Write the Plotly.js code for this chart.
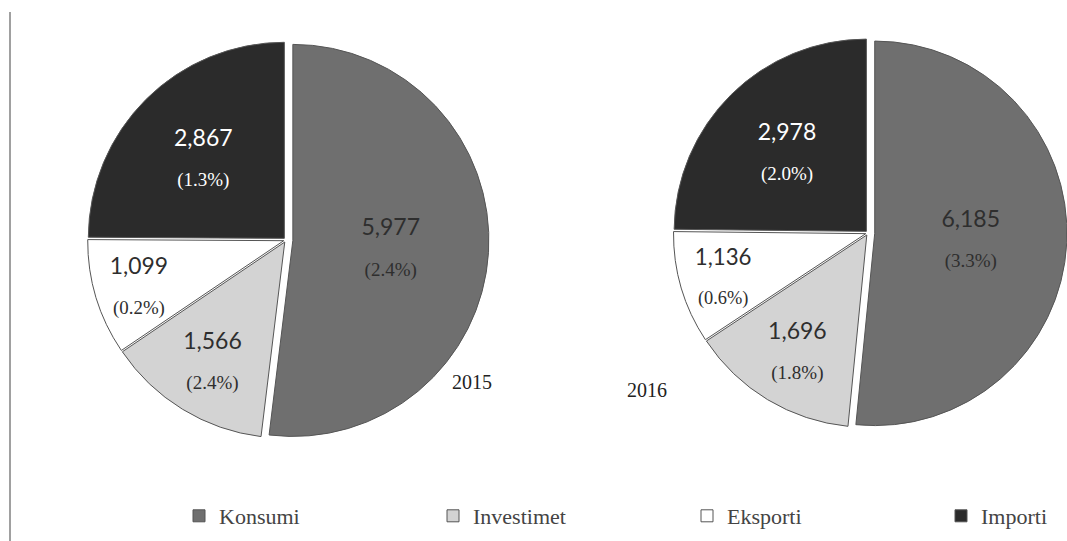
<!DOCTYPE html>
<html>
<head>
<meta charset="utf-8">
<script src="https://cdn.plot.ly/plotly-3.0.1.min.js"></script>
<style>
  html, body { margin: 0; padding: 0; background: #ffffff; }
</style>
</head>
<body>
<div id="chart"></div>
<script>
// ---- data ----
const categories = ["Konsumi", "Investimet", "Eksporti", "Importi"];
const values2015 = [5977, 1566, 1099, 2867];
const growth2015 = ["2.4%", "2.4%", "0.2%", "1.3%"];
const values2016 = [6185, 1696, 1136, 2978];
const growth2016 = ["3.3%", "1.8%", "0.6%", "2.0%"];
const years = ["2015", "2016"];

// ---- style ----
const sliceColors = ["#6f6f6f", "#d3d3d3", "#ffffff", "#2b2b2b"];
const textColors = ["#2e2e2e", "#2e2e2e", "#2e2e2e", "#ffffff"];
const pulls = [0.035, 0.012, 0.012, 0.012];
const W = 1067, H = 541;

const tmpl = "<span style='font-family:Lato;font-size:23px'>%{value:,}</span><br>" +
             "<span style='font-size:19px'>(%{customdata})</span>";

function pieTrace(vals, growth, dom, show) {
  return {
    type: "pie",
    labels: categories,
    values: vals,
    customdata: growth,
    sort: false,
    direction: "clockwise",
    rotation: 0,
    pull: pulls,
    marker: { colors: sliceColors, line: { color: "#555555", width: 1 } },
    texttemplate: tmpl,
    textinfo: "text",
    textposition: "inside",
    insidetextorientation: "horizontal",
    textfont: { family: "Liberation Serif, Times New Roman, serif", size: 31, color: textColors },
    hoverinfo: "label+value",
    showlegend: show,
    domain: dom
  };
}

const data = [
  pieTrace(values2015, growth2015, { x: [83.1 / W, 488.9 / W], y: [98.1 / H, 503.9 / H] }, true),
  pieTrace(values2016, growth2016, { x: [669 / W, 1], y: [105 / H, 511 / H] }, false)
];

const yearFont = { family: "Liberation Serif, Times New Roman, serif", size: 20, color: "#222222" };

const layout = {
  width: W,
  height: H,
  margin: { l: 0, r: 0, t: 0, b: 0, autoexpand: false },
  paper_bgcolor: "#ffffff",
  showlegend: true,
  legend: {
    orientation: "h",
    x: 179 / W,
    xanchor: "left",
    y: 25 / H,
    yanchor: "middle",
    entrywidth: 209,
    entrywidthmode: "pixels",
    traceorder: "normal",
    font: { family: "Liberation Serif, Times New Roman, serif", size: 22, color: "#444444" },
    itemclick: false
  },
  annotations: [
    { text: years[0], x: 472 / W, y: (H - 382) / H, xref: "paper", yref: "paper", xanchor: "center", yanchor: "middle",
      showarrow: false, font: yearFont },
    { text: years[1], x: 647 / W, y: (H - 390) / H, xref: "paper", yref: "paper", xanchor: "center", yanchor: "middle",
      showarrow: false, font: yearFont }
  ],
  shapes: [
    { type: "line", xref: "paper", yref: "paper", x0: 10 / W, x1: 10 / W, y0: 0, y1: (H - 12) / H,
      line: { color: "#a0a0a0", width: 2 } }
  ]
};

Plotly.newPlot("chart", data, layout, { displayModeBar: false, staticPlot: true });
</script>
</body>
</html>
